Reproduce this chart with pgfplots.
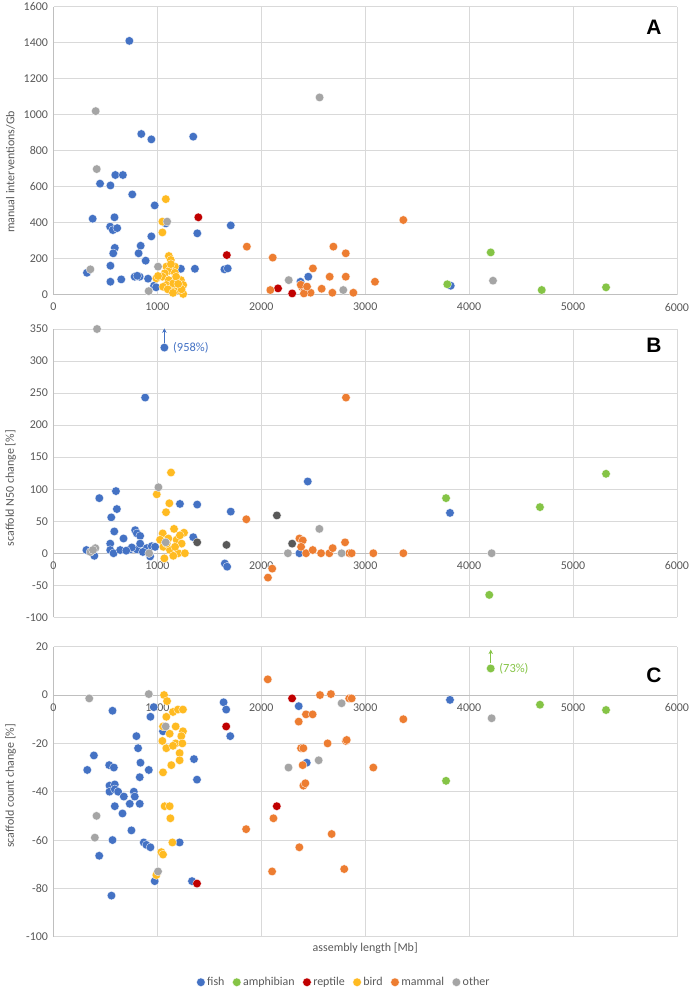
\documentclass[border=0pt]{standalone}
\usepackage{fontspec}
\setmainfont{Carlito}
\newfontfamily\arialf{Liberation Sans}
\usepackage{pgfplots}
\pgfplotsset{compat=1.18}
\usetikzlibrary{arrows.meta}
\definecolor{cfish}{HTML}{4472C4}
\definecolor{camph}{HTML}{85C446}
\definecolor{crept}{HTML}{C00000}
\definecolor{cbird}{HTML}{FFBB22}
\definecolor{cmamm}{HTML}{ED7D31}
\definecolor{cother}{HTML}{A5A5A5}
\definecolor{cdark}{HTML}{595959}
\definecolor{gridc}{HTML}{D9D9D9}
\definecolor{axisc}{HTML}{BFBFBF}
\definecolor{labc}{HTML}{595959}
\pgfplotsset{
  base/.style={
    scale only axis, width=623.4bp,
    xmin=0, xmax=6000, xtick={0,1000,...,6000},
    grid=major, grid style={draw=gridc, line width=0.7bp},
    axis x line=middle, axis y line=left,
    axis line style={draw=axisc, line width=0.9bp, -},
    major tick length=0pt,
    tick label style={font=\fontsize{12}{13}\selectfont, text=labc},
    xticklabel style={yshift=-5bp},
    yticklabel style={xshift=-2bp},
    /pgf/number format/assume math mode=true,
    /pgf/number format/1000 sep={},
    hide obscured x ticks=false, hide obscured y ticks=false,
    clip=false,
    every axis y label/.style={rotate=90, anchor=center, font=\fontsize{12}{13}\selectfont, text=labc},
  },
  dot/.style={only marks, mark=*, mark size=4.3bp, color=#1, mark options={draw=white, line width=0.3bp, fill=#1}},
}
\begin{document}
\begin{tikzpicture}
\path[use as bounding box] (0,0) rectangle (693bp,-993bp);
% ---------------- Panel A
\begin{axis}[base, at={(53.5bp,-294.7bp)}, anchor=south west, height=288bp,
  ymin=0, ymax=1600, ytick={0,200,...,1600},
  ylabel={manual interventions/Gb},
  ylabel style={at={(axis description cs:-0.069,0.426)}}]
\addplot[dot=cfish] table {
730 1410
845 893
942 863
1345 878
448 617
548 607
595 665
668 665
758 557
974 496
377 422
587 430
545 378
571 359
613 370
942 324
1081 396
1384 341
1706 385
839 272
819 230
590 260
575 230
887 189
548 161
322 122
781 100
829 100
806 105
652 85
548 72
910 89
968 50
987 41
1226 144
1361 144
1645 141
1677 146
2377 72
2452 100
3823 50
};
\addplot[dot=camph] table {
4208 235
3790 58
4699 26
5318 41
};
\addplot[dot=crept] table {
1394 430
1668 220
2161 35
2297 7
};
\addplot[dot=cbird] table {
1081 531
1048 406
1048 346
1110 215
1129 193
1087 156
1168 156
1113 133
1071 119
1168 122
990 91
1048 100
1110 81
1226 81
1248 54
1087 54
1139 35
1203 26
1248 4
1055 44
1152 63
1232 30
1006 104
1180 100
1130 170
1200 60
1100 30
1150 10
};
\addplot[dot=cmamm] table {
1861 267
2110 206
2087 26
2497 146
2694 267
2813 230
2658 100
2813 100
2581 33
2684 11
2394 41
2416 26
2442 17
2474 11
2410 7
2380 55
2440 45
3367 415
3094 72
2886 11
};
\addplot[dot=cother] table {
406 1020
2561 1096
416 698
1094 406
355 141
1006 156
916 20
2264 81
2789 26
4230 78
};
\node[font=\arialf\bfseries\fontsize{21}{21}\selectfont] at (axis description cs:0.963,0.93) {A};
\end{axis}
% ---------------- Panel B
\begin{axis}[base, at={(53.5bp,-617.3bp)}, anchor=south west, height=288.3bp,
  ymin=-100, ymax=350, ytick={-100,-50,...,350},
  ylabel={scaffold N50 change [\%]},
  ylabel style={at={(axis description cs:-0.069,0.448)}}]
\addplot[dot=cfish] table {
1067 321
882 243
441 86
601 97
610 69
556 56
585 34
674 23
786 36
802 31
834 27
1217 77
1383 76
1345 25
1706 65
2447 112
1649 -16
1671 -21
393 -4
317 5
546 15
546 5
578 0
642 5
738 6
802 6
834 15
898 8
946 11
978 10
930 -5
754 9
700 4
860 2
2367 0
3816 63
};
\addplot[dot=camph] table {
3778 86
4682 72
5318 124
4194 -65
};
\addplot[dot=cdark] table {
1383 17
1665 13
2150 59
2297 15
};
\addplot[dot=cbird] table {
1131 126
994 92
1115 78
1083 64
1160 38
1256 32
1051 31
1105 23
1185 21
1233 15
1057 10
1121 5
1201 0
1265 0
1067 -8
1153 -4
1026 21
1217 28
1090 15
1170 10
};
\addplot[dot=cmamm] table {
1856 53
2105 -24
2064 -38
2815 243
2806 17
2367 23
2399 20
2383 10
2431 0
2495 5
2575 0
2655 0
2687 8
2847 0
2870 0
3078 0
3367 0
};
\addplot[dot=cother] table {
419 350
1010 103
1080 17
920 0
355 2
403 8
380 5
2256 0
2559 38
2773 0
4217 0
};
\draw[cfish, line width=1.4bp, -{Stealth[length=4.5bp,width=4.5bp]}] (axis cs:1067,326) -- (axis cs:1067,351);
\node[cfish, anchor=west, inner sep=0pt, font=\fontsize{12.5}{13}\selectfont] at (axis cs:1150,320) {(958\%)};
\node[font=\arialf\bfseries\fontsize{21}{21}\selectfont] at (axis description cs:0.963,0.944) {B};
\end{axis}
% ---------------- Panel C
\begin{axis}[base, at={(53.5bp,-936.7bp)}, anchor=south west, height=290bp,
  ymin=-100, ymax=20, ytick={-100,-80,...,20},
  ylabel={scaffold count change [\%]},
  ylabel style={at={(axis description cs:-0.069,0.52)}},
  xlabel={assembly length [Mb]},
  xlabel style={at={(axis description cs:0.5,0)}, anchor=north, yshift=-3bp, font=\fontsize{12}{13}\selectfont, text=labc},
  legend style={at={(axis description cs:0.466,-0.157)}, anchor=center, draw=none, fill=none,
    legend columns=6, font=\fontsize{12}{13}\selectfont, text=labc,
    /tikz/every even column/.append style={column sep=6bp}},
  legend image code/.code={\draw[#1, mark size=4.3bp] plot coordinates {(0bp,0bp)};},
  legend cell align=left]
\addplot[dot=cfish] table {
568 -6.5
965 -5
933 -9
1054 -15
798 -17
814 -22
837 -28
830 -34
917 -31
389 -25
325 -31
536 -29
581 -30
539 -37.5
590 -37
539 -40
590 -39
622 -40
590 -46
664 -49
677 -42
734 -45
773 -40
782 -42
830 -45
750 -56
568 -60
440 -66.5
869 -61
894 -62
933 -63
558 -83
974 -77
1214 -61
1333 -77
1352 -26.5
1381 -35
1637 -3
1662 -6
1701 -17
2360 -4.6
2437 -28
3816 -2
};
\addlegendentry{fish}
\addplot[dot=camph] table {
4208 11
4682 -4
5318 -6.2
3778 -35.5
};
\addlegendentry{amphibian}
\addplot[dot=crept] table {
1381 -78
1662 -13
2149 -46
2296 -1.4
};
\addlegendentry{reptile}
\addplot[dot=cbird] table {
1064 0
1093 -2.5
1150 -7
1198 -6
1246 -6
1086 -9
1054 -13
1176 -13
1118 -16
1246 -15
1230 -17
1048 -19
1086 -22
1176 -20
1240 -20
1150 -21
1214 -24
1214 -27
1134 -29
1054 -32
1070 -46
1118 -46
1125 -51
1144 -61
1038 -65
1054 -66
990 -74.5
};
\addlegendentry{bird}
\addplot[dot=cmamm] table {
2062 6.5
2565 0
2670 0.4
2846 -1.4
2360 -11
2430 -8
2494 -8
2382 -22
2405 -22
2398 -29
2405 -37.5
2424 -36.5
2638 -20
2814 -19
1854 -55.5
2117 -51
2104 -73
2366 -63
2677 -57.5
2798 -72
2870 -1.4
3367 -10
2822 -18.6
3078 -30
};
\addlegendentry{mammal}
\addplot[dot=cother] table {
344 -1.4
917 0.4
1080 -13
414 -50
398 -59
1006 -73
2262 -30
2552 -27
2773 -3.4
4217 -9.6
};
\addlegendentry{other}
\draw[camph, line width=1.4bp, -{Stealth[length=4.5bp,width=4.5bp]}] (axis cs:4208,13.4) -- (axis cs:4208,18.8);
\node[camph, anchor=west, inner sep=0pt, font=\fontsize{12.5}{13}\selectfont] at (axis cs:4290,11) {(73\%)};
\node[font=\arialf\bfseries\fontsize{21}{21}\selectfont] at (axis description cs:0.963,0.902) {C};
\end{axis}
\end{tikzpicture}
\end{document}
